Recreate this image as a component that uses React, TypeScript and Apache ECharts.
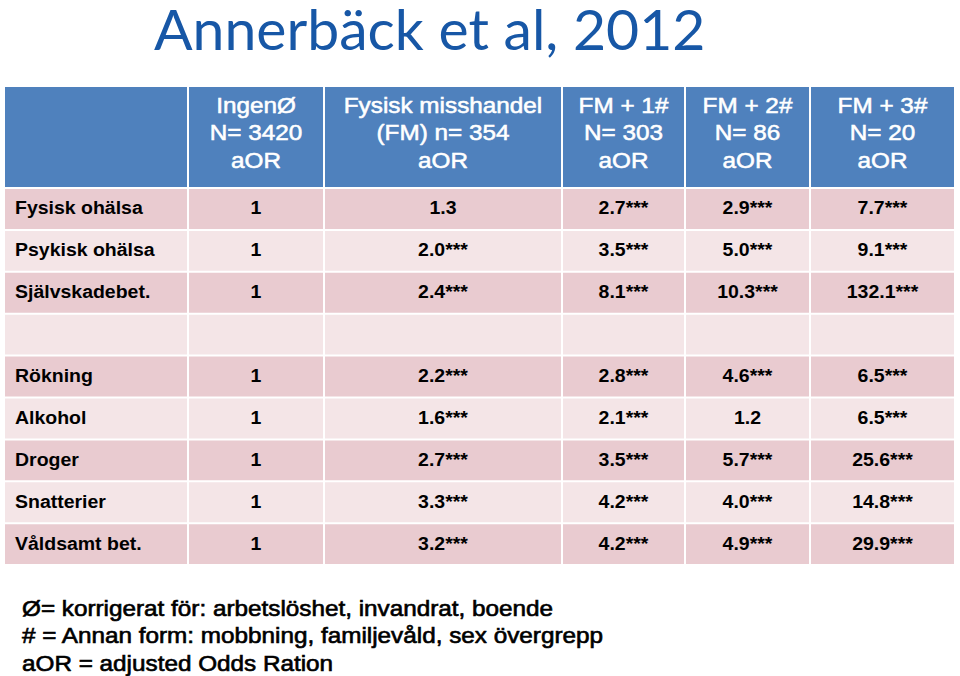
import React, { useEffect, useRef } from "react";
import * as echarts from "echarts";

const titleText = "Annerbäck et al, 2012";
const columnHeaders = [
  ["IngenØ", "N= 3420", "aOR"],
  ["Fysisk misshandel", "(FM) n= 354", "aOR"],
  ["FM + 1#", "N= 303", "aOR"],
  ["FM + 2#", "N= 86", "aOR"],
  ["FM + 3#", "N= 20", "aOR"],
];
const rowLabels = [
  "Fysisk ohälsa",
  "Psykisk ohälsa",
  "Självskadebet.",
  "",
  "Rökning",
  "Alkohol",
  "Droger",
  "Snatterier",
  "Våldsamt bet.",
];
const ingenValues = ["1", "1", "1", "", "1", "1", "1", "1", "1"];
const fmValues = ["1.3", "2.0***", "2.4***", "", "2.2***", "1.6***", "2.7***", "3.3***", "3.2***"];
const fm1Values = ["2.7***", "3.5***", "8.1***", "", "2.8***", "2.1***", "3.5***", "4.2***", "4.2***"];
const fm2Values = ["2.9***", "5.0***", "10.3***", "", "4.6***", "1.2", "5.7***", "4.0***", "4.9***"];
const fm3Values = ["7.7***", "9.1***", "132.1***", "", "6.5***", "6.5***", "25.6***", "14.8***", "29.9***"];
const footnotes = [
  "Ø= korrigerat för: arbetslöshet, invandrat, boende",
  "# = Annan form: mobbning, familjevåld, sex övergrepp",
  "aOR = adjusted Odds Ration",
];

// layout
const colEdges = [5, 189, 325, 563, 686, 811, 956];
const gap = 2;
const headerTop = 87;
const headerBottom = 187;
const rowTop = 189;
const rowStep = 41.9;
const HEADER_BG = "#4F81BD";
const DARK_ROW = "#E9CBD0";
const LIGHT_ROW = "#F4E5E7";
const TEXT_FONT = "'Liberation Sans', Arial, sans-serif";

function txt(
  text: string,
  x: number,
  y: number,
  font: string,
  fill: string,
  align: string,
  scaleY = 1,
  strokeWidth = 0,
  scaleX = 1
) {
  const style: any = {
    text,
    x: 0,
    y: 0,
    font,
    fill,
    align,
    verticalAlign: "middle",
    textAlign: align,
    textVerticalAlign: "middle",
  };
  if (strokeWidth > 0) {
    style.stroke = fill;
    style.lineWidth = strokeWidth;
  }
  return { type: "text", x, y, scaleX, scaleY, silent: true, style };
}

export default function App() {
  const ref = useRef<HTMLDivElement>(null);
  useEffect(() => {
    document.body.style.margin = "0";
    if (!ref.current) return;
    const chart = echarts.init(ref.current, null, { renderer: "svg" });
    const elements: any[] = [];

    // title
    elements.push(txt(titleText, 154, 28.5, "56px Lato, 'Open Sans', sans-serif", "#1757A6", "left", 1, 0, 1.02));

    // header cells
    for (let c = 0; c < 6; c++) {
      const x0 = colEdges[c];
      const x1 = colEdges[c + 1] - gap;
      elements.push({
        type: "rect",
        silent: true,
        shape: { x: x0, y: headerTop, width: x1 - x0, height: headerBottom - headerTop },
        style: { fill: HEADER_BG },
      });
      if (c > 0) {
        const lines = columnHeaders[c - 1];
        const cx = (x0 + x1) / 2;
        lines.forEach((line, i) => {
          elements.push(txt(line, cx, 105 + i * 27.5, `24.3px ${TEXT_FONT}`, "#FFFFFF", "center", 0.9, 0.6));
        });
      }
    }

    const valueCols = [ingenValues, fmValues, fm1Values, fm2Values, fm3Values];
    rowLabels.forEach((label, r) => {
      const y0 = rowTop + r * rowStep;
      const h = rowStep - gap;
      const fill = r % 2 === 0 ? DARK_ROW : LIGHT_ROW;
      for (let c = 0; c < 6; c++) {
        const x0 = colEdges[c];
        const x1 = colEdges[c + 1] - gap;
        elements.push({
          type: "rect",
          silent: true,
          shape: { x: x0, y: y0, width: x1 - x0, height: h },
          style: { fill },
        });
      }
      const cy = y0 + h / 2 - 1;
      if (label) elements.push(txt(label, 15, cy, `bold 19.5px ${TEXT_FONT}`, "#000000", "left", 0.97));
      valueCols.forEach((vals, ci) => {
        const v = vals[r];
        if (!v) return;
        const x0 = colEdges[ci + 1];
        const x1 = colEdges[ci + 2] - gap;
        elements.push(txt(v, (x0 + x1) / 2, cy, `bold 19.5px ${TEXT_FONT}`, "#000000", "center", 0.97));
      });
    });

    footnotes.forEach((line, i) => {
      elements.push(txt(line, 22, 608 + i * 27.5, `24.3px ${TEXT_FONT}`, "#000000", "left", 0.92, 0.7));
    });

    chart.setOption({
      animation: false,
      backgroundColor: "#FFFFFF",
      graphic: { elements },
    });
    return () => chart.dispose();
  }, []);
  return <div ref={ref} style={{ width: 960, height: 676 }} />;
}
